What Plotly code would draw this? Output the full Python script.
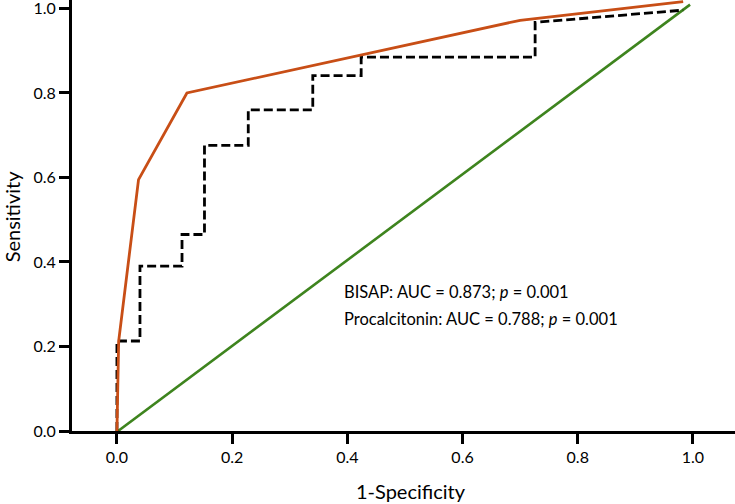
import plotly.graph_objects as go

# BISAP ROC curve (orange)
bisap_fpr = [0.0, 0.003, 0.0375, 0.1215, 0.70, 0.983]
bisap_tpr = [0.0, 0.212, 0.595, 0.800, 0.972, 1.016]

# Procalcitonin ROC curve (black dashed, stepwise)
pct_fpr = [0.0, 0.0, 0.040, 0.040, 0.113, 0.113, 0.152, 0.152, 0.228, 0.228,
           0.340, 0.340, 0.424, 0.424, 0.726, 0.726, 0.983]
pct_tpr = [0.0, 0.213, 0.213, 0.390, 0.390, 0.465, 0.465, 0.676, 0.676, 0.760,
           0.760, 0.841, 0.841, 0.885, 0.885, 0.967, 0.996]

# Reference line (green)
ref_fpr = [0.002, 0.995]
ref_tpr = [0.0, 1.009]

x_ticks = [0.0, 0.2, 0.4, 0.6, 0.8, 1.0]
y_ticks = [0.0, 0.2, 0.4, 0.6, 0.8, 1.0]

FONT = "Lato"

fig = go.Figure()
fig.add_trace(go.Scatter(x=ref_fpr, y=ref_tpr, mode="lines",
                         line=dict(color="rgb(62,132,30)", width=2.6), showlegend=False))
fig.add_trace(go.Scatter(x=pct_fpr, y=pct_tpr, mode="lines",
                         line=dict(color="black", width=2.8, dash="9px,4px"), showlegend=False))
fig.add_trace(go.Scatter(x=bisap_fpr, y=bisap_tpr, mode="lines",
                         line=dict(color="rgb(200,78,22)", width=2.8), showlegend=False))

axis_common = dict(showline=True, linecolor="black", linewidth=3, ticks="outside",
                   ticklen=10, tickwidth=3, tickcolor="black", showgrid=False,
                   zeroline=False, tickformat=".1f", automargin=False,
                   ticklabeloverflow="allow",
                   tickfont=dict(family=FONT, size=16, color="black"))

fig.update_xaxes(range=[-0.078, 1.073], tickvals=x_ticks, **axis_common)
fig.update_yaxes(range=[0, 1.02], tickvals=y_ticks, **axis_common)

annotations = [
    dict(text="BISAP: AUC = 0.873; <i>p</i> = 0.001", x=0.391, y=0.330, xref="x", yref="y",
         xanchor="left", yanchor="middle", showarrow=False,
         font=dict(family=FONT, size=16.5, color="black")),
    dict(text="Procalcitonin: AUC = 0.788; <i>p</i> = 0.001", x=0.391, y=0.264, xref="x", yref="y",
         xanchor="left", yanchor="middle", showarrow=False,
         font=dict(family=FONT, size=16.5, color="black")),
    dict(text="1-Specificity", x=0.511, y=-0.139, xref="paper", yref="paper",
         xanchor="center", yanchor="middle", showarrow=False,
         font=dict(family=FONT, size=20, color="black")),
    dict(text="Sensitivity", x=-0.0905, y=0.498, xref="paper", yref="paper",
         xanchor="center", yanchor="middle", showarrow=False, textangle=-90,
         font=dict(family=FONT, size=20, color="black")),
]

fig.update_layout(width=735, height=504, margin=dict(l=72, r=0, t=0, b=73),
                  plot_bgcolor="white", paper_bgcolor="white",
                  annotations=annotations, font=dict(family=FONT))

fig.write_html("out.html", config={"displayModeBar": False},
               post_script="document.body.style.margin='0';document.body.style.padding='0';")
